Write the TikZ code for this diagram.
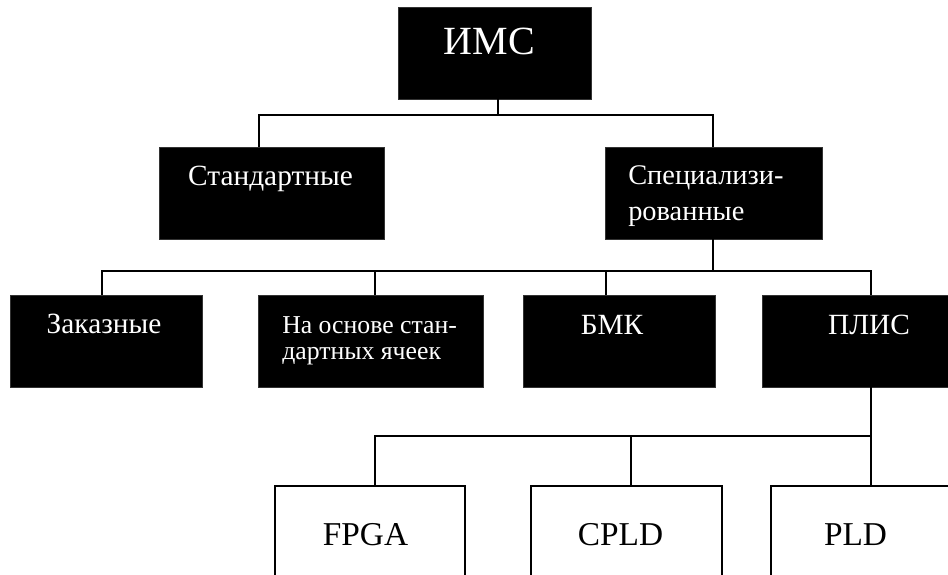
\documentclass[tikz,border=0pt]{standalone}
\usepackage{fontspec}
\setmainfont{Liberation Serif}
\begin{document}
\begin{tikzpicture}[x=0.75pt,y=-0.75pt,
  blk/.style={rectangle,fill=black,draw=black!80,line width=0.4pt,inner sep=0pt,
              minimum width=192*0.75pt,minimum height=92*0.75pt},
  wbox/.style={rectangle,fill=white,draw=black,line width=1.1pt,inner sep=0pt,
              minimum width=190*0.75pt,minimum height=92*0.75pt},
  wtxt/.style={text=white,inner sep=0pt,anchor=base,font=\fontsize{22}{26}\selectfont},
  btxt/.style={text=black,inner sep=0pt,anchor=base,font=\fontsize{25}{30}\selectfont},
  wire/.style={draw=black,line width=0.8pt}]
\useasboundingbox (0,0) rectangle (948,574);
\clip (0,0) rectangle (948,574);

% boxes
\node[blk,minimum width=193*0.75pt] (ims) at (494.5,53) {};
\node[blk,minimum width=225*0.75pt] (std) at (271.5,193) {};
\node[blk,minimum width=217*0.75pt] (spec) at (713.5,193) {};
\node[blk] (zak) at (106,341) {};
\node[blk,minimum width=225*0.75pt] (nao) at (370.5,341) {};
\node[blk] (bmk) at (619,341) {};
\node[blk] (plis) at (858,341) {};
\node[wbox] (fpga) at (370,532) {};
\node[wbox,minimum width=191*0.75pt] (cpld) at (626.5,532) {};
\node[wbox] (pld) at (866,532) {};

% labels
\node[wtxt,font=\fontsize{30}{34}\selectfont] (imsT) at (489.5,55) {ИМС};
\node[wtxt] (stdT) at (270.5,185) {Стандартные};
\node[wtxt,anchor=base west,font=\fontsize{21.3}{26}\selectfont] (specT1) at (628,184) {Специализи-};
\node[wtxt,anchor=base west,font=\fontsize{21.3}{26}\selectfont] (specT2) at (628,220) {рованные};
\node[wtxt] (zakT) at (104,333) {Заказные};
\node[wtxt,anchor=base west,font=\fontsize{19.3}{24}\selectfont] (naoT1) at (282,333) {На основе стан-};
\node[wtxt,anchor=base west,font=\fontsize{19.3}{24}\selectfont] (naoT2) at (282,359) {дартных ячеек};
\node[wtxt] (bmkT) at (612,334) {БМК};
\node[wtxt] (plisT) at (869,334) {ПЛИС};
\node[btxt] (fpgaT) at (365.5,545) {FPGA};
\node[btxt] (cpldT) at (620.5,545) {CPLD};
\node[btxt] (pldT) at (855.5,545) {PLD};

% bus levels and drop columns
\coordinate (busA) at (0,115);
\coordinate (busB) at (0,271);
\coordinate (busC) at (0,436);
\coordinate (xims) at (498,0);
\coordinate (xstd) at (259,0);
\coordinate (xspec) at (713,0);
\coordinate (xzak) at (102,0);
\coordinate (xnao) at (375,0);
\coordinate (xbmk) at (606,0);
\coordinate (xplis) at (871,0);
\coordinate (xfpga) at (375,0);
\coordinate (xcpld) at (631,0);
\coordinate (xpld) at (871,0);

% connectors
\draw[wire] (ims.south -| xims) -- (xims |- busA);
\draw[wire] (std.north -| xstd) -- (xstd |- busA) -- (xspec |- busA) -- (spec.north -| xspec);

\draw[wire] (spec.south -| xspec) -- (xspec |- busB);
\draw[wire] (zak.north -| xzak) -- (xzak |- busB) -- (xplis |- busB) -- (plis.north -| xplis);
\draw[wire] (nao.north -| xnao) -- (xnao |- busB);
\draw[wire] (bmk.north -| xbmk) -- (xbmk |- busB);

\draw[wire] (plis.south -| xplis) -- (xplis |- busC);
\draw[wire] (fpga.north -| xfpga) -- (xfpga |- busC) -- (xpld |- busC) -- (pld.north -| xpld);
\draw[wire] (cpld.north -| xcpld) -- (xcpld |- busC);
\end{tikzpicture}
\end{document}
